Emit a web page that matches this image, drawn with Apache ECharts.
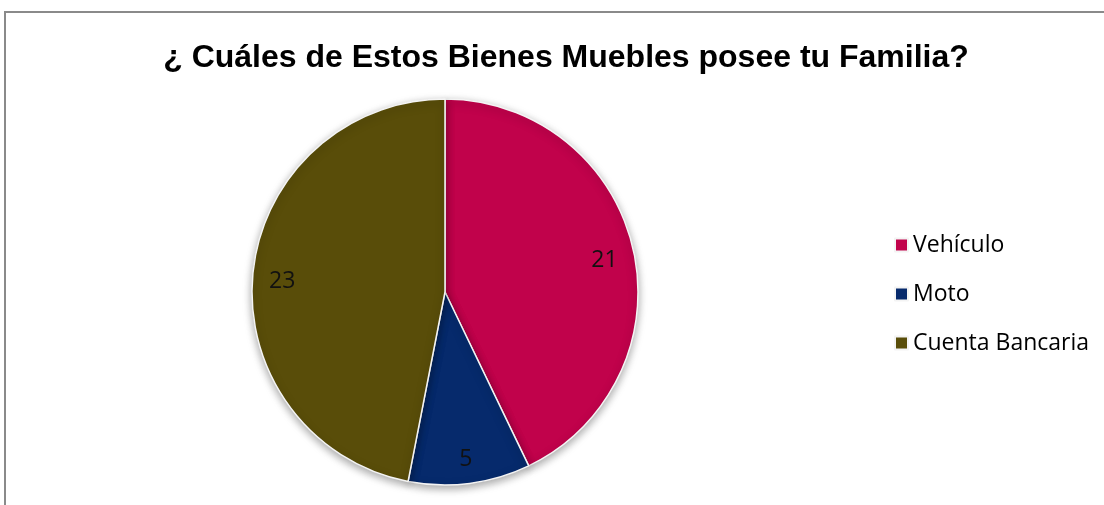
<!DOCTYPE html>
<html>
<head>
<meta charset="utf-8">
<script src="https://cdn.jsdelivr.net/npm/echarts@6/dist/echarts.min.js"></script>
<style>
html,body{margin:0;padding:0;background:#fff;}
#frame{position:absolute;left:4px;top:11px;width:1100px;height:494px;border-top:2px solid #8a8a8a;border-left:2px solid #8a8a8a;box-sizing:border-box;}
#chart{position:absolute;left:0;top:0;width:1104px;height:505px;}
</style>
</head>
<body>
<div id="frame"></div>
<div id="chart"></div>
<script>
const titleText = '¿ Cuáles de Estos Bienes Muebles posee tu Familia?';
const categories = ['Vehículo', 'Moto', 'Cuenta Bancaria'];
const values = [21, 5, 23];
const colors = ['#C1024B', '#062A6C', '#594D09'];

const data = categories.map((c, i) => ({ name: c, value: values[i], itemStyle: { color: colors[i] } }));

const chart = echarts.init(document.getElementById('chart'), null, { renderer: 'canvas' });
chart.setOption({
  animation: false,
  title: {
    text: titleText,
    left: 561,
    textAlign: 'center',
    top: 37,
    textStyle: { fontFamily: 'Liberation Sans, Arial, sans-serif', fontWeight: 'bold', fontSize: 32, color: '#000' }
  },
  legend: {
    orient: 'vertical',
    left: 889,
    top: 228,
    itemWidth: 13,
    itemHeight: 13,
    itemGap: 25,
    icon: 'rect',
    data: categories,
    textStyle: { fontFamily: 'Open Sans, sans-serif', fontSize: 23, color: '#000', lineHeight: 24, padding: [0, 0, 0, 0] }
  },
  series: [
    {
      type: 'pie',
      center: [445, 292],
      radius: [0, 193],
      startAngle: 90,
      clockwise: true,
      data: data,
      label: { show: false },
      labelLine: { show: false },
      itemStyle: { borderColor: '#f4f4f4', borderWidth: 1.5, shadowBlur: 8, shadowOffsetY: 3, shadowColor: 'rgba(0,0,0,0.35)' },
      emphasis: { disabled: true }
    },
    {
      type: 'pie',
      center: [445, 297],
      radius: [128, 193],
      startAngle: 90,
      clockwise: true,
      silent: true,
      data: categories.map((c, i) => ({ name: c, value: values[i] })),
      itemStyle: { color: 'rgba(0,0,0,0)' },
      label: { show: true, position: 'inside', formatter: '{c}', fontFamily: 'Open Sans, sans-serif', fontSize: 23, color: '#111' },
      labelLine: { show: false },
      emphasis: { disabled: true }
    }
  ]
});
</script>
</body>
</html>
